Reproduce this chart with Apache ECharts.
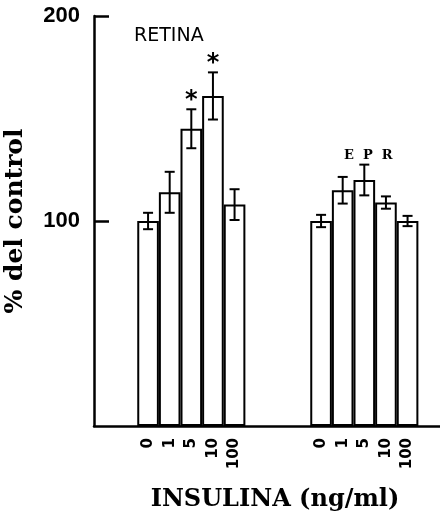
<!DOCTYPE html>
<html lang="es">
<head>
	<meta charset="UTF-8">
	<title>Retina - insulina</title>
	<style>
		html, body { margin: 0; padding: 0; background: #fff; }
		#main { width: 440px; height: 511px; }
	</style>
	<script src="https://cdn.jsdelivr.net/npm/echarts@6/dist/echarts.min.js"></script>
</head>
<body>
	<div id="main"></div>
	<script>
		// 16 category slots: empty ones are the gaps between the two groups
		var categories = ['', '', '0', '1', '5', '10', '100', '', '', '', '0', '1', '5', '10', '100', ''];
		var means  = [null, null, 100, 114, 145, 161, 108, null, null, null, 100, 115, 120, 109, 100, null];
		var errors = [null, null, 4, 10, 9.5, 11.5, 7.5, null, null, null, 3, 6.5, 7.5, 3, 2.5, null];
		var stars  = [0, 0, 0, 0, 1, 1, 0, 0, 0, 0, 0, 0, 0, 0, 0, 0];
		var yTicks = [0, 100, 200];

		var errData = [];
		means.forEach(function (m, i) {
			if (m == null) return;
			errData.push([i, m - errors[i], m + errors[i], stars[i]]);
		});

		var myChart = echarts.init(document.getElementById('main'));

		var option = {
			backgroundColor: '#fff',
			animation: false,
			grid: { left: 94, right: 0, top: 16, bottom: 85, outerBoundsMode: 'none', containLabel: false },
			graphic: [
				{
					type: 'text', left: 134, top: 27,
					style: { text: 'RETINA', font: '500 19px "DejaVu Sans"', fill: '#000' }
				},
				{
					type: 'text', left: 344, top: 149,
					style: { text: 'E  P  R', font: 'bold 13px "DejaVu Serif"', fill: '#000' }
				}
			],
			xAxis: {
				type: 'category',
				data: categories.map(function (c, i) { return i; }),
				boundaryGap: true,
				axisLine: { lineStyle: { color: '#000', width: 2.5 } },
				axisTick: { show: false },
				axisLabel: {
					interval: 0,
					rotate: 90,
					margin: 12,
					color: '#000',
					fontFamily: 'DejaVu Sans',
					fontWeight: 'bold',
					fontSize: 15,
					formatter: function (v) { return categories[v]; }
				},
				name: 'INSULINA (ng/ml)',
				nameLocation: 'middle',
				nameGap: 62,
				nameTextStyle: {
					color: '#000',
					fontFamily: 'DejaVu Serif',
					fontWeight: 'bold',
					fontSize: 24,
					padding: [0, 0, 0, 16]
				}
			},
			yAxis: {
				type: 'value',
				min: yTicks[0],
				max: yTicks[yTicks.length - 1],
				interval: 100,
				splitLine: { show: false },
				axisLine: { show: true, lineStyle: { color: '#000', width: 2.5 } },
				axisTick: { show: true, inside: true, length: 15, lineStyle: { color: '#000', width: 2.5 } },
				axisLabel: {
					showMinLabel: false,
					margin: 14,
					color: '#000',
					fontFamily: 'Liberation Sans',
					fontWeight: 'bold',
					fontSize: 22
				},
				name: '% del control',
				nameLocation: 'middle',
				nameGap: 66,
				nameTextStyle: {
					color: '#000',
					fontFamily: 'DejaVu Serif',
					fontWeight: 'bold',
					fontSize: 25
				}
			},
			series: [
				{
					type: 'bar',
					data: means,
					barWidth: '100%',
					barCategoryGap: 0,
					itemStyle: { color: '#fff', borderColor: '#000', borderWidth: 2 },
					z: 2
				},
				{
					type: 'custom',
					data: errData,
					encode: { x: 0, y: [1, 2] },
					z: 3,
					renderItem: function (params, api) {
						var x = api.value(0);
						var lo = api.coord([x, api.value(1)]);
						var hi = api.coord([x, api.value(2)]);
						var cx = hi[0];
						var cap = 5;
						var st = { stroke: '#000', lineWidth: 2 };
						var kids = [
							{ type: 'line', shape: { x1: cx, y1: hi[1], x2: cx, y2: lo[1] }, style: st },
							{ type: 'line', shape: { x1: cx - cap, y1: hi[1], x2: cx + cap, y2: hi[1] }, style: st },
							{ type: 'line', shape: { x1: cx - cap, y1: lo[1], x2: cx + cap, y2: lo[1] }, style: st }
						];
						if (api.value(3)) {
							kids.push({
								type: 'text',
								style: {
									text: '*', x: cx, y: hi[1] + 3,
									align: 'center', verticalAlign: 'bottom',
									font: 'bold 24px "DejaVu Sans"', fill: '#000'
								}
							});
						}
						return { type: 'group', children: kids };
					}
				}
			]
		};

		myChart.setOption(option);
	</script>
</body>
</html>
